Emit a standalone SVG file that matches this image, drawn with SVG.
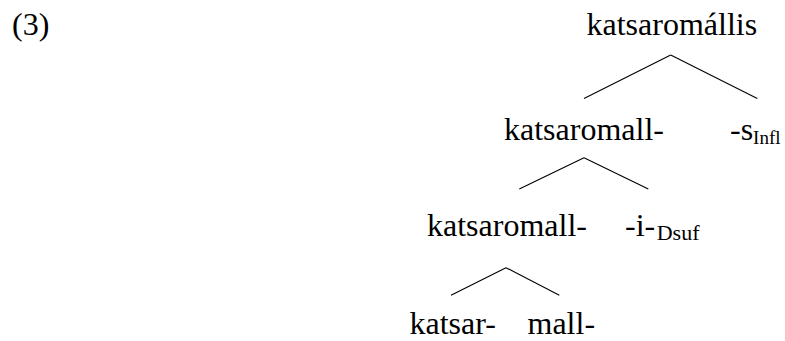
<svg xmlns="http://www.w3.org/2000/svg" width="785" height="341" viewBox="0 0 785 341">
<style>
text{font-family:'Liberation Serif','Times New Roman',serif;font-size:32px;fill:#000}
.sub{font-size:19px}
.sub2{font-size:22px}
line{stroke:#000;stroke-width:1.1}
</style>
<rect width="785" height="341" fill="#fff"/>
<text id="label" x="12" y="35">(3)</text>
<g id="connectors">
<line x1="584" y1="98.5" x2="670.7" y2="55"/>
<line x1="670.7" y1="55" x2="757.3" y2="98.5"/>
<line x1="519.3" y1="189" x2="584" y2="157.7"/>
<line x1="584" y1="157.7" x2="648.3" y2="189"/>
<line x1="451" y1="295.3" x2="506" y2="267.7"/>
<line x1="506" y1="267.7" x2="559.3" y2="295.3"/>
</g>
<g id="n-root"><text x="586.5" y="34.5">katsaromállis</text></g>
<g id="n-stem1"><text x="504" y="139.5">katsaromall-</text></g>
<g id="n-infl"><text x="730" y="139.5">-s<tspan class="sub" y="144">Infl</tspan></text></g>
<g id="n-stem2"><text x="427" y="235.5">katsaromall-</text></g>
<g id="n-dsuf"><text x="625" y="235.5">-i-<tspan class="sub2" dx="1.5" y="240">Dsuf</tspan></text></g>
<g id="n-katsar"><text x="409.5" y="333.5">katsar-</text></g>
<g id="n-mall"><text x="527.5" y="333.5">mall-</text></g>
</svg>
